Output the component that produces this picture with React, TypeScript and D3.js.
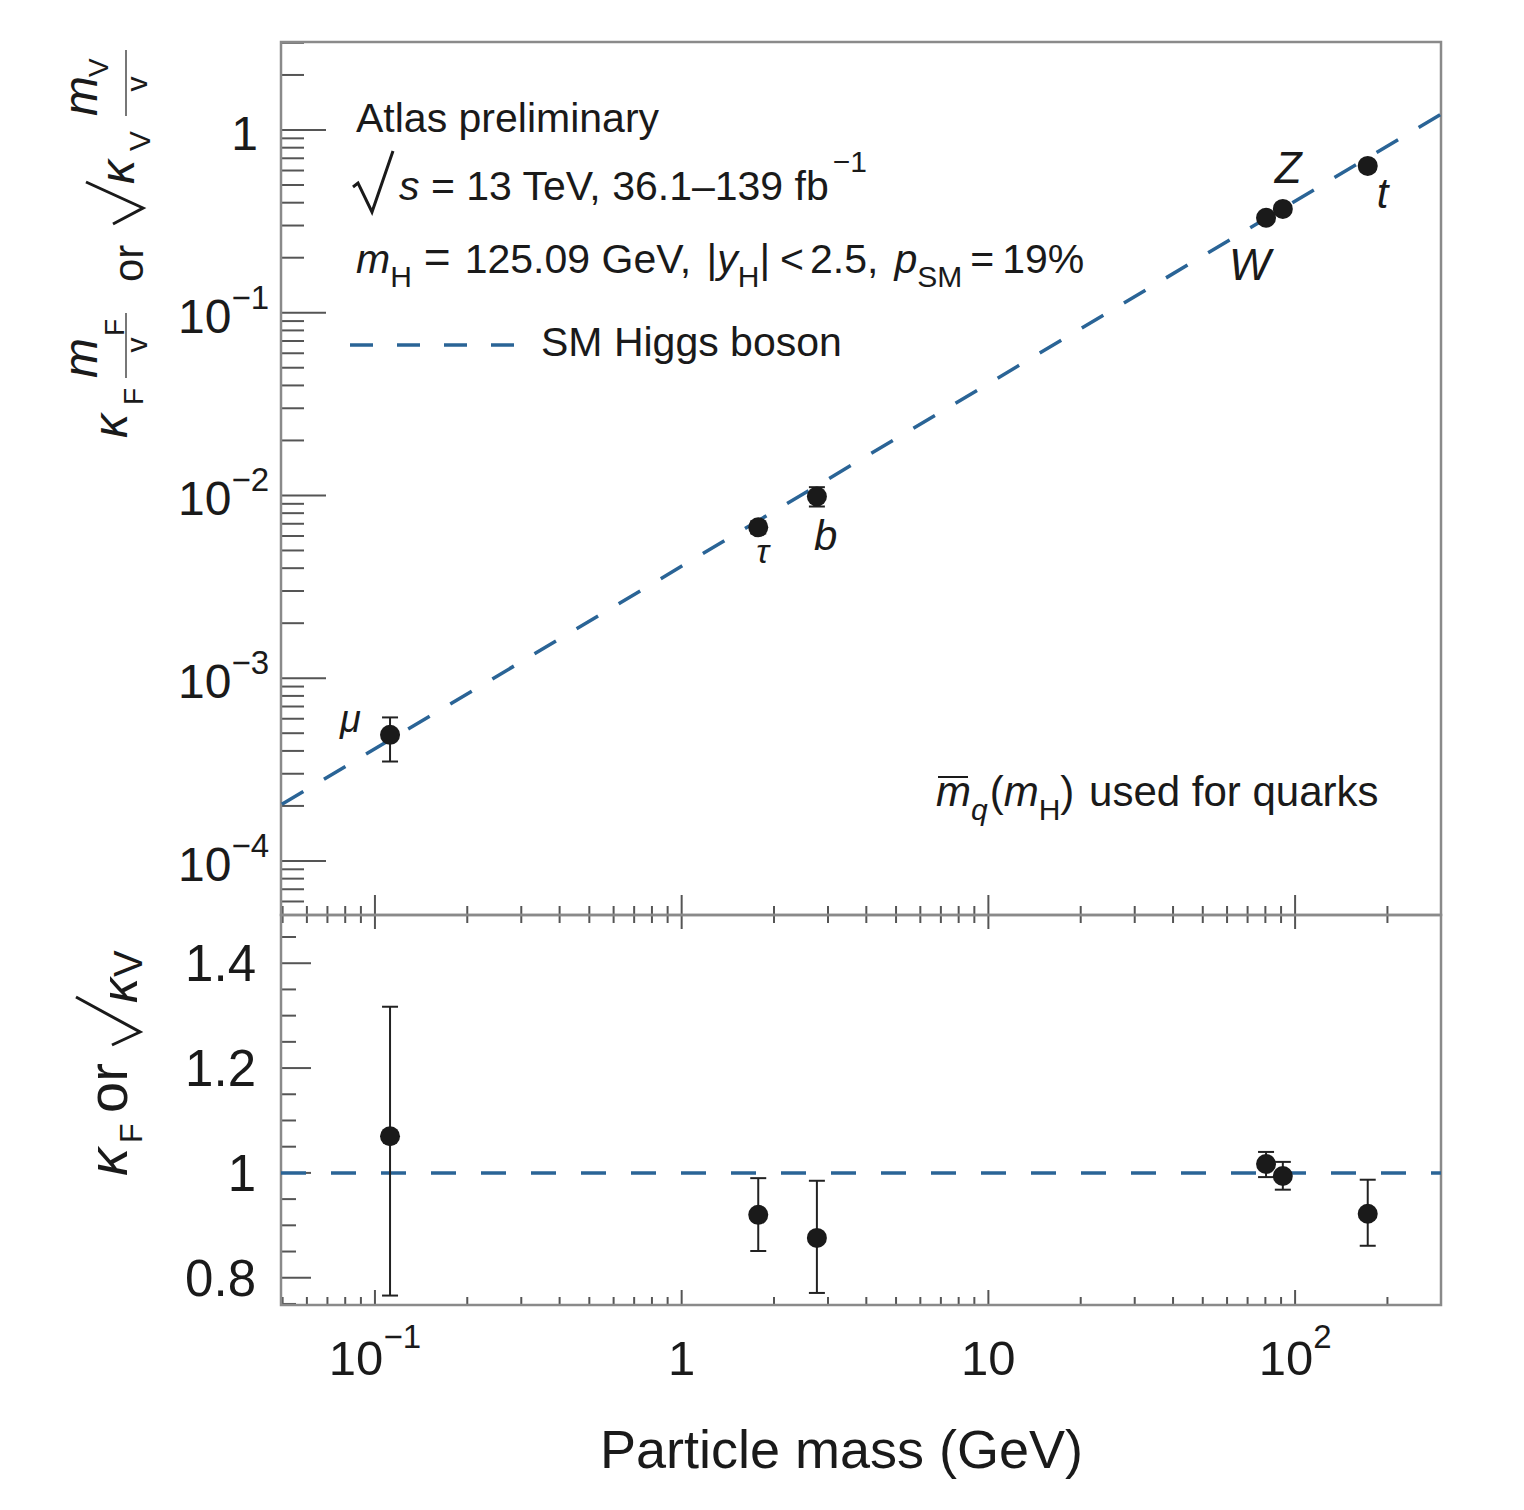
import * as d3 from "d3"

const particles = ["μ", "τ", "b", "W", "Z", "t"]
const massGeV = [0.112, 1.777, 2.76, 80.4, 91.2, 172.5]
const reduced = [4.9e-4, 6.69e-3, 9.87e-3, 0.331, 0.37, 0.636]
const reducedHi = [6.1e-4, 7.2e-3, 1.11e-2, 0.339, 0.38, 0.673]
const reducedLo = [3.5e-4, 6.2e-3, 8.7e-3, 0.323, 0.361, 0.594]
const kappa = [1.07, 0.92, 0.876, 1.017, 0.994, 0.922]
const kappaHi = [1.317, 0.99, 0.985, 1.04, 1.021, 0.987]
const kappaLo = [0.766, 0.851, 0.771, 0.992, 0.968, 0.861]

// SM expectation (end points of the dashed line)
const smMass = [0.0494, 299]
const smReduced = [2.03e-4, 1.22]
const smKappa = [1, 1]

// tick labels
const xLabelValues = [0.1, 1, 10, 100]
const xLabelBase = ["10", "1", "10", "10"]
const xLabelExp = ["−1", "", "", "2"]
const yTopLabelValues = [1, 0.1, 0.01, 0.001, 0.0001]
const yTopLabelBase = ["1", "10", "10", "10", "10"]
const yTopLabelExp = ["", "−1", "−2", "−3", "−4"]
const yBotLabelValues = [0.8, 1, 1.2, 1.4]
const yBotLabelText = ["0.8", "1", "1.2", "1.4"]

const FONT = "'Liberation Sans', Arial, Helvetica, sans-serif"
const BLUE = "#2a6496"
const FRAME = "#8a8a8a"
const TICK = "#555"
const INK = "#1a1a1a"

// label placement relative to each point (layout only)
const labelLayout = [
    { dx: -50, dy: -3, size: 38 },
    { dx: -2, dy: 36, size: 34 },
    { dx: -3, dy: 54, size: 42 },
    { dx: -37, dy: 62, size: 44 },
    { dx: -8, dy: -26, size: 44 },
    { dx: 9, dy: 42, size: 42 },
]

function RotText(props: { x: number; y: number; size: number; italic?: boolean; anchor?: string; children: string }) {
    return (
        <text
            transform={`translate(${props.x},${props.y}) rotate(-90)`}
            fontSize={props.size}
            fontStyle={props.italic ? "italic" : "normal"}
            textAnchor={props.anchor ?? "start"}
            fill={INK}
        >
            {props.children}
        </text>
    )
}

export default function App() {
    const width = 1524
    const height = 1510
    const left = 281
    const right = 1441
    const top = 42
    const mid = 915
    const bottom = 1305

    const x = d3.scaleLog().domain([0.0494, 299]).range([left, right])
    const yTop = d3.scaleLog().domain([5.06e-5, 3.03]).range([mid, top])
    const yBot = d3.scaleLinear().domain([0.748, 1.492]).range([bottom, mid])

    const isDecade = (v: number) => Math.abs(Math.log10(v) - Math.round(Math.log10(v))) < 1e-6
    const xTicks = x.ticks()
    const yTopTicks = yTop.ticks()
    const yBotTicks = yBot.ticks(15)

    const idx = d3.range(smMass.length)
    const smTopPath = d3
        .line<number>()
        .x((i) => x(smMass[i]))
        .y((i) => yTop(smReduced[i]))(idx)
    const smBotPath = d3
        .line<number>()
        .x((i) => x(smMass[i]))
        .y((i) => yBot(smKappa[i]))(idx)

    const pts = d3.range(particles.length)
    const cap = 8

    return (
        <svg
            width={width}
            height={height}
            style={{ position: "absolute", left: 0, top: 0, background: "#fff" }}
            fontFamily={FONT}
        >
            <defs>
                <clipPath id="clipTop">
                    <rect x={left} y={top} width={right - left} height={mid - top} />
                </clipPath>
                <clipPath id="clipBot">
                    <rect x={left} y={mid} width={right - left} height={bottom - mid} />
                </clipPath>
            </defs>
            <rect width={width} height={height} fill="#fff" />

            {/* y ticks, top panel */}
            {yTopTicks.map((t, i) => (
                <line
                    key={"yt" + i}
                    x1={left}
                    x2={left + (isDecade(t) ? 45 : 23)}
                    y1={yTop(t)}
                    y2={yTop(t)}
                    stroke={TICK}
                    strokeWidth={2}
                />
            ))}
            {/* y ticks, bottom panel */}
            {yBotTicks.map((t, i) => {
                const major = Math.abs(t * 5 - Math.round(t * 5)) < 1e-6
                return (
                    <line
                        key={"yb" + i}
                        x1={left}
                        x2={left + (major ? 30 : 15)}
                        y1={yBot(t)}
                        y2={yBot(t)}
                        stroke={TICK}
                        strokeWidth={2}
                    />
                )
            })}
            {/* x ticks on the shared boundary and at the bottom */}
            {xTicks.map((t, i) => {
                const major = isDecade(t)
                const xx = x(t)
                return (
                    <g key={"xt" + i} stroke={TICK} strokeWidth={2}>
                        <line x1={xx} x2={xx} y1={mid} y2={mid - (major ? 20 : 9)} />
                        <line x1={xx} x2={xx} y1={mid} y2={mid + (major ? 14 : 8)} />
                        <line x1={xx} x2={xx} y1={bottom} y2={bottom - (major ? 15 : 8)} />
                    </g>
                )
            })}

            {/* frames */}
            <rect x={left} y={top} width={right - left} height={mid - top} fill="none" stroke={FRAME} strokeWidth={2.5} />
            <rect x={left} y={mid} width={right - left} height={bottom - mid} fill="none" stroke={FRAME} strokeWidth={2.5} />

            {/* SM lines */}
            <path
                d={smTopPath ?? ""}
                clipPath="url(#clipTop)"
                fill="none"
                stroke={BLUE}
                strokeWidth={3.5}
                strokeDasharray="25 24"
                strokeDashoffset={48}
            />
            <path
                d={smBotPath ?? ""}
                clipPath="url(#clipBot)"
                fill="none"
                stroke={BLUE}
                strokeWidth={3.5}
                strokeDasharray="25 25"
            />

            {/* error bars + markers */}
            {pts.map((i) => {
                const xx = x(massGeV[i])
                return (
                    <g key={"p" + i}>
                        <g stroke="#222" strokeWidth={2}>
                            <line x1={xx} x2={xx} y1={yTop(reducedLo[i])} y2={yTop(reducedHi[i])} />
                            <line x1={xx - cap} x2={xx + cap} y1={yTop(reducedLo[i])} y2={yTop(reducedLo[i])} />
                            <line x1={xx - cap} x2={xx + cap} y1={yTop(reducedHi[i])} y2={yTop(reducedHi[i])} />
                            <line x1={xx} x2={xx} y1={yBot(kappaLo[i])} y2={yBot(kappaHi[i])} />
                            <line x1={xx - cap} x2={xx + cap} y1={yBot(kappaLo[i])} y2={yBot(kappaLo[i])} />
                            <line x1={xx - cap} x2={xx + cap} y1={yBot(kappaHi[i])} y2={yBot(kappaHi[i])} />
                        </g>
                        <circle cx={xx} cy={yTop(reduced[i])} r={10} fill={INK} />
                        <circle cx={xx} cy={yBot(kappa[i])} r={10} fill={INK} />
                        <text
                            x={xx + labelLayout[i].dx}
                            y={yTop(reduced[i]) + labelLayout[i].dy}
                            fontSize={labelLayout[i].size}
                            fontStyle="italic"
                            fill={INK}
                        >
                            {particles[i]}
                        </text>
                    </g>
                )
            })}

            {/* tick labels */}
            {yTopLabelValues.map((v, i) => (
                <text
                    key={"ytl" + i}
                    x={yTopLabelExp[i] ? 269 : 258}
                    y={yTop(v) + 20}
                    fontSize={48}
                    textAnchor="end"
                    fill={INK}
                >
                    {yTopLabelBase[i]}
                    {yTopLabelExp[i] && (
                        <tspan fontSize={33} dy={-24}>
                            {yTopLabelExp[i]}
                        </tspan>
                    )}
                </text>
            ))}
            {yBotLabelValues.map((v, i) => (
                <text key={"ybl" + i} x={256} y={yBot(v) + 18} fontSize={51} textAnchor="end" fill={INK}>
                    {yBotLabelText[i]}
                </text>
            ))}
            {xLabelValues.map((v, i) => (
                <text key={"xl" + i} x={x(v)} y={1375} fontSize={49} textAnchor="middle" fill={INK}>
                    {xLabelBase[i]}
                    {xLabelExp[i] && (
                        <tspan fontSize={33} dy={-27}>
                            {xLabelExp[i]}
                        </tspan>
                    )}
                </text>
            ))}

            {/* axis titles */}
            <text x={1083} y={1468} fontSize={54} textAnchor="end" fill={INK}>
                Particle mass (GeV)
            </text>

            {/* top y title: kF mF/v or sqrt(kV) mV/v */}
            <g>
                <RotText x={127} y={438} size={48} italic>κ</RotText>
                <RotText x={143} y={405} size={28}>F</RotText>
                <RotText x={97} y={378} size={48} italic>m</RotText>
                <RotText x={124} y={336} size={28}>F</RotText>
                <line x1={126} x2={126} y1={313} y2={378} stroke="#777" strokeWidth={2} />
                <RotText x={147} y={345} size={30} anchor="middle">v</RotText>
                <RotText x={143} y={282} size={42}>or</RotText>
                <path d="M113,224 L143,208 L86,182" fill="none" stroke={INK} strokeWidth={3} strokeLinejoin="miter" />
                <RotText x={134} y={184} size={48} italic>κ</RotText>
                <RotText x={150} y={151} size={30}>V</RotText>
                <RotText x={97} y={116} size={48} italic>m</RotText>
                <RotText x={108} y={77} size={28}>V</RotText>
                <line x1={126} x2={126} y1={50} y2={116} stroke="#777" strokeWidth={2} />
                <RotText x={147} y={84} size={30} anchor="middle">v</RotText>
            </g>

            {/* bottom y title: kF or sqrt(kV) */}
            <g>
                <RotText x={127} y={1176} size={56} italic>κ</RotText>
                <RotText x={142} y={1143} size={32}>F</RotText>
                <RotText x={127} y={1113} size={56}>or</RotText>
                <path d="M112,1045 L140,1032 L76,997" fill="none" stroke={INK} strokeWidth={3} />
                <RotText x={137} y={1003} size={50} italic>κ</RotText>
                <RotText x={142} y={977} size={40}>V</RotText>
            </g>

            {/* annotation */}
            <g fill={INK} fontSize={41}>
                <text x={356} y={132}>Atlas preliminary</text>
                <path d="M353,187 L358,183 L372,212 L393,151" fill="none" stroke={INK} strokeWidth={3} />
                <text x={399} y={200}>
                    <tspan fontStyle="italic">s</tspan>
                    <tspan> = 13 TeV, 36.1–139 fb</tspan>
                    <tspan fontSize={30} dy={-28} dx={4}>
                        −1
                    </tspan>
                </text>
                <text x={356} y={273}>
                    <tspan fontStyle="italic">m</tspan>
                    <tspan fontSize={30} dy={14}>H</tspan>
                    <tspan dy={-14} dx={12} fontSize={46}>=</tspan>
                    <tspan dx={14}>125.09 GeV, </tspan>
                    <tspan dx={4}>|</tspan>
                    <tspan fontStyle="italic">y</tspan>
                    <tspan fontSize={30} dy={14}>H</tspan>
                    <tspan dy={-14}>|</tspan>
                    <tspan dx={10}>&lt;</tspan>
                    <tspan dx={6}>2.5,</tspan>
                    <tspan dx={16} fontStyle="italic">p</tspan>
                    <tspan fontSize={30} dy={14}>SM</tspan>
                    <tspan dy={-14} dx={8}>=</tspan>
                    <tspan dx={8}>19%</tspan>
                </text>
                <line x1={350} x2={522} y1={345} y2={345} stroke={BLUE} strokeWidth={3.5} strokeDasharray="23 24" />
                <text x={541} y={356}>SM Higgs boson</text>

                <line x1={938} x2={968} y1={777} y2={777} stroke={INK} strokeWidth={2} />
                <text x={936} y={806} fontSize={42}>
                    <tspan fontStyle="italic">m</tspan>
                    <tspan fontSize={30} dy={14} fontStyle="italic">q</tspan>
                    <tspan dy={-14} dx={2}>(</tspan>
                    <tspan fontStyle="italic">m</tspan>
                    <tspan fontSize={30} dy={14}>H</tspan>
                    <tspan dy={-14}>)</tspan>
                    <tspan dx={3}> used for quarks</tspan>
                </text>
            </g>
        </svg>
    )
}
